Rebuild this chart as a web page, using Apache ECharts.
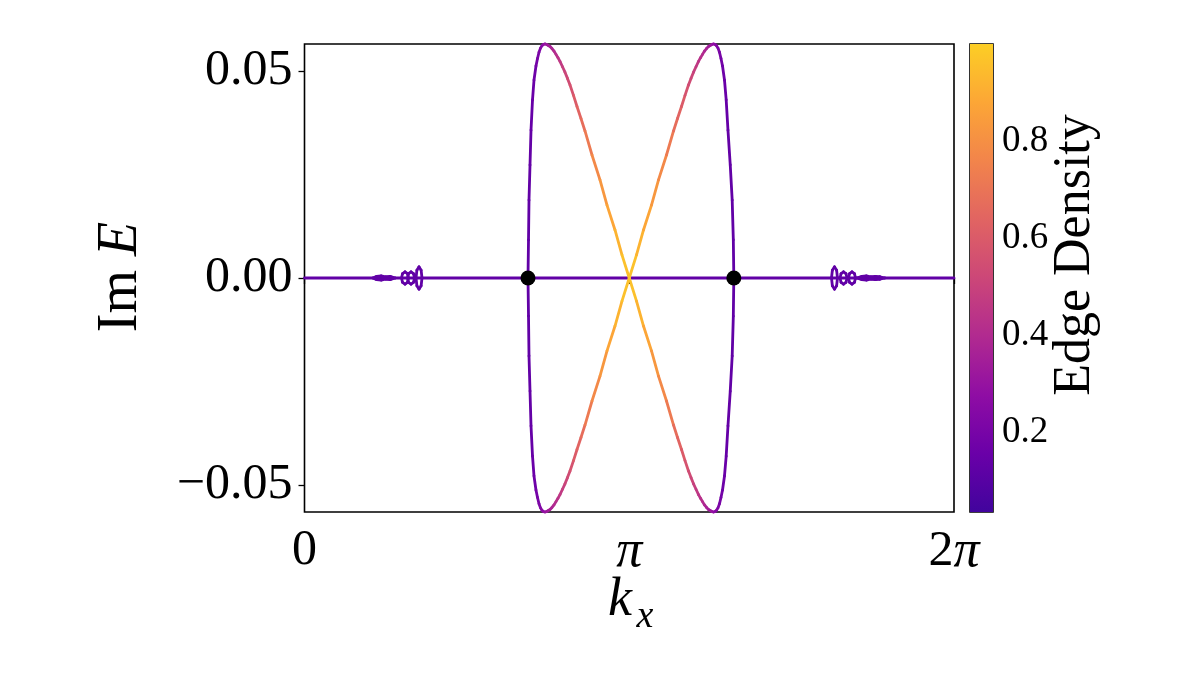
<!DOCTYPE html>
<html>
<head>
<meta charset="utf-8">
<script src="https://cdn.jsdelivr.net/npm/echarts@6/dist/echarts.min.js"></script>
<style>
  html, body { margin: 0; padding: 0; background: #fff; }
  #main { width: 1196px; height: 673px; }
</style>
</head>
<body>
<div id="main"></div>
<script>
// kx is in units of pi, each point is [kx, Im E, edge density]
var baseLine = [[0, 0, 0.13], [2, 0, 0.13]];

var curveA = [
  [0.6882, 0, 0.13], [0.6898, 0.0092, 0.13], [0.6913, 0.0188, 0.13], [0.6944, 0.0273, 0.135],
  [0.6975, 0.0357, 0.14], [0.7021, 0.0430, 0.15], [0.7067, 0.0478, 0.16], [0.7128, 0.0512, 0.18],
  [0.7175, 0.0530, 0.195], [0.7221, 0.0545, 0.21], [0.7267, 0.0555, 0.23], [0.7313, 0.0561, 0.25],
  [0.7360, 0.0564, 0.27], [0.7406, 0.0565, 0.29], [0.7452, 0.0564, 0.31], [0.7498, 0.0562, 0.33],
  [0.7560, 0.0559, 0.35], [0.7621, 0.0554, 0.37], [0.7682, 0.0548, 0.39], [0.7744, 0.0540, 0.41],
  [0.7805, 0.0532, 0.43], [0.7867, 0.0523, 0.45], [0.7944, 0.0510, 0.475], [0.8021, 0.0497, 0.50],
  [0.8098, 0.0482, 0.525], [0.8176, 0.0466, 0.55], [0.8283, 0.0441, 0.585], [0.8391, 0.0414, 0.62],
  [0.8514, 0.0385, 0.655], [0.8637, 0.0355, 0.69], [0.8853, 0.0297, 0.75],
  [0.9099, 0.0237, 0.80], [0.9315, 0.0176, 0.85], [0.9561, 0.0116, 0.90], [0.9776, 0.0056, 0.94],
  [1.0000, 0, 0.98],
  [1.0224, -0.0056, 0.94], [1.0439, -0.0116, 0.90], [1.0685, -0.0176, 0.85], [1.0901, -0.0237, 0.80],
  [1.1147, -0.0297, 0.75], [1.1363, -0.0355, 0.69], [1.1486, -0.0385, 0.655], [1.1609, -0.0414, 0.62],
  [1.1717, -0.0441, 0.585], [1.1824, -0.0466, 0.55], [1.1902, -0.0482, 0.525], [1.1979, -0.0497, 0.50],
  [1.2056, -0.0510, 0.475], [1.2133, -0.0523, 0.45], [1.2195, -0.0532, 0.43], [1.2256, -0.0540, 0.41],
  [1.2318, -0.0548, 0.39], [1.2379, -0.0554, 0.37], [1.2440, -0.0559, 0.35], [1.2502, -0.0562, 0.33],
  [1.2548, -0.0564, 0.31], [1.2594, -0.0565, 0.29], [1.2640, -0.0564, 0.27], [1.2687, -0.0561, 0.25],
  [1.2733, -0.0555, 0.23], [1.2779, -0.0545, 0.21], [1.2825, -0.0530, 0.195], [1.2872, -0.0512, 0.18],
  [1.2933, -0.0478, 0.16], [1.2985, -0.0430, 0.15], [1.3040, -0.0357, 0.14],
  [1.3110, -0.0273, 0.135], [1.3170, -0.0188, 0.13], [1.3205, -0.0092, 0.13], [1.3220, 0, 0.13]
];

var curveB = [
  [0.6882, 0, 0.13], [0.6898, -0.0092, 0.13], [0.6913, -0.0188, 0.13], [0.6944, -0.0273, 0.135],
  [0.6975, -0.0357, 0.14], [0.7021, -0.0430, 0.15], [0.7067, -0.0478, 0.16], [0.7128, -0.0512, 0.18],
  [0.7175, -0.0530, 0.195], [0.7221, -0.0545, 0.21], [0.7267, -0.0555, 0.23], [0.7313, -0.0561, 0.25],
  [0.7360, -0.0564, 0.27], [0.7406, -0.0565, 0.29], [0.7452, -0.0564, 0.31], [0.7498, -0.0562, 0.33],
  [0.7560, -0.0559, 0.35], [0.7621, -0.0554, 0.37], [0.7682, -0.0548, 0.39], [0.7744, -0.0540, 0.41],
  [0.7805, -0.0532, 0.43], [0.7867, -0.0523, 0.45], [0.7944, -0.0510, 0.475], [0.8021, -0.0497, 0.50],
  [0.8098, -0.0482, 0.525], [0.8176, -0.0466, 0.55], [0.8283, -0.0441, 0.585], [0.8391, -0.0414, 0.62],
  [0.8514, -0.0385, 0.655], [0.8637, -0.0355, 0.69], [0.8853, -0.0297, 0.75],
  [0.9099, -0.0237, 0.80], [0.9315, -0.0176, 0.85], [0.9561, -0.0116, 0.90], [0.9776, -0.0056, 0.94],
  [1.0000, 0, 0.98],
  [1.0224, 0.0056, 0.94], [1.0439, 0.0116, 0.90], [1.0685, 0.0176, 0.85], [1.0901, 0.0237, 0.80],
  [1.1147, 0.0297, 0.75], [1.1363, 0.0355, 0.69], [1.1486, 0.0385, 0.655], [1.1609, 0.0414, 0.62],
  [1.1717, 0.0441, 0.585], [1.1824, 0.0466, 0.55], [1.1902, 0.0482, 0.525], [1.1979, 0.0497, 0.50],
  [1.2056, 0.0510, 0.475], [1.2133, 0.0523, 0.45], [1.2195, 0.0532, 0.43], [1.2256, 0.0540, 0.41],
  [1.2318, 0.0548, 0.39], [1.2379, 0.0554, 0.37], [1.2440, 0.0559, 0.35], [1.2502, 0.0562, 0.33],
  [1.2548, 0.0564, 0.31], [1.2594, 0.0565, 0.29], [1.2640, 0.0564, 0.27], [1.2687, 0.0561, 0.25],
  [1.2733, 0.0555, 0.23], [1.2779, 0.0545, 0.21], [1.2825, 0.0530, 0.195], [1.2872, 0.0512, 0.18],
  [1.2933, 0.0478, 0.16], [1.2985, 0.0430, 0.15], [1.3040, 0.0357, 0.14],
  [1.3110, 0.0273, 0.135], [1.3170, 0.0188, 0.13], [1.3205, 0.0092, 0.13], [1.3220, 0, 0.13]
];

// small bulk loops near the real axis
var wiggleLeft1 = [
  [0.211, 0, 0.13], [0.222, 0.0004, 0.13], [0.236, 0.0005, 0.13], [0.250, 0.0003, 0.13],
  [0.264, 0.0004, 0.13], [0.279, 0, 0.13], [0.264, -0.0004, 0.13], [0.250, -0.0003, 0.13],
  [0.236, -0.0005, 0.13], [0.222, -0.0004, 0.13], [0.211, 0, 0.13]
];
var wiggleLeft2 = [
  [0.3203, 0, 0.13], [0.3171, 0.00106, 0.13], [0.3095, 0.0015, 0.13], [0.3019, 0.00106, 0.13],
  [0.2987, 0, 0.13], [0.3019, -0.00106, 0.13], [0.3095, -0.0015, 0.13], [0.3171, -0.00106, 0.13],
  [0.3203, 0, 0.13]
];
var wiggleLeft3 = [
  [0.3388, 0, 0.13], [0.3356, 0.00106, 0.13], [0.3280, 0.0015, 0.13], [0.3204, 0.00106, 0.13],
  [0.3172, 0, 0.13], [0.3204, -0.00106, 0.13], [0.3280, -0.0015, 0.13], [0.3356, -0.00106, 0.13],
  [0.3388, 0, 0.13]
];
var wiggleLeft4 = [
  [0.3618, 0, 0.13], [0.3591, 0.0019, 0.13], [0.3526, 0.0027, 0.13], [0.3461, 0.0019, 0.13],
  [0.3434, 0, 0.13], [0.3461, -0.0019, 0.13], [0.3526, -0.0027, 0.13], [0.3591, -0.0019, 0.13],
  [0.3618, 0, 0.13]
];
var wiggleRight1 = [
  [1.6412, 0, 0.13], [1.6385, 0.0019, 0.13], [1.6320, 0.0027, 0.13], [1.6255, 0.0019, 0.13],
  [1.6228, 0, 0.13], [1.6255, -0.0019, 0.13], [1.6320, -0.0027, 0.13], [1.6385, -0.0019, 0.13],
  [1.6412, 0, 0.13]
];
var wiggleRight2 = [
  [1.6706, 0, 0.13], [1.6674, 0.00106, 0.13], [1.6598, 0.0015, 0.13], [1.6522, 0.00106, 0.13],
  [1.6490, 0, 0.13], [1.6522, -0.00106, 0.13], [1.6598, -0.0015, 0.13], [1.6674, -0.00106, 0.13],
  [1.6706, 0, 0.13]
];
var wiggleRight3 = [
  [1.6967, 0, 0.13], [1.6935, 0.00106, 0.13], [1.6859, 0.0015, 0.13], [1.6783, 0.00106, 0.13],
  [1.6751, 0, 0.13], [1.6783, -0.00106, 0.13], [1.6859, -0.0015, 0.13], [1.6935, -0.00106, 0.13],
  [1.6967, 0, 0.13]
];
var wiggleRight4 = [
  [1.701, 0, 0.13], [1.716, 0.0004, 0.13], [1.730, 0.0005, 0.13], [1.744, 0.0003, 0.13],
  [1.758, 0.0004, 0.13], [1.772, 0.0003, 0.13], [1.787, 0, 0.13], [1.772, -0.0003, 0.13],
  [1.758, -0.0004, 0.13], [1.744, -0.0003, 0.13], [1.730, -0.0005, 0.13], [1.716, -0.0004, 0.13],
  [1.701, 0, 0.13]
];

// exceptional points (black dots)
var epKx = [0.6882, 1.3220];
var epIm = [0, 0];

var xTicks = [0, 1, 2];
var yTicks = [-0.05, 0, 0.05];
var cbTicks = [0.2, 0.4, 0.6, 0.8];
var densMin = 0.035, densMax = 1.0;

// plasma, 0.1 .. 0.9
var plasma = ['#41049d', '#6a00a8', '#8f0da4', '#b12a90', '#cc4778',
              '#e16462', '#f2844b', '#fca636', '#fcce25'];

var FONT = 'Liberation Serif';

function toSegments(pts){
  var out = [];
  for (var i = 0; i < pts.length - 1; i++) {
    out.push([pts[i][0], pts[i][1], pts[i+1][0], pts[i+1][1], (pts[i][2] + pts[i+1][2]) / 2]);
  }
  return out;
}

var segs = [].concat(
  toSegments(baseLine),
  toSegments(wiggleLeft1), toSegments(wiggleLeft2), toSegments(wiggleLeft3), toSegments(wiggleLeft4),
  toSegments(wiggleRight1), toSegments(wiggleRight2), toSegments(wiggleRight3), toSegments(wiggleRight4),
  toSegments(curveA), toSegments(curveB)
);

var dots = [];
for (var i = 0; i < epKx.length; i++) dots.push([epKx[i], epIm[i]]);

var chart = echarts.init(document.getElementById('main'));

var stops = plasma.map(function(c, i){ return { offset: i / (plasma.length - 1), color: c }; });

var option = {
  animation: false,
  backgroundColor: '#fff',
  grid: [
    { left: 304.5, top: 44, width: 649.5, height: 468, show: true, borderColor: '#000', borderWidth: 1.6, backgroundColor: 'transparent' },
    { left: 970, top: 44, width: 23, height: 468, show: true, borderColor: '#000', borderWidth: 1.6, backgroundColor: 'transparent' }
  ],
  xAxis: [
    {
      type: 'value', gridIndex: 0, min: 0, max: 2, interval: 1,
      axisLine: { show: false },
      splitLine: { show: false },
      axisTick: { show: true, length: 6, lineStyle: { color: '#000', width: 1.3 } },
      axisLabel: {
        margin: 14, color: '#000', fontFamily: FONT, fontSize: 50,
        formatter: function(v){
          if (v === 0) return '0';
          if (v === 1) return '{i|π}';
          return '2{i|π}';
        },
        rich: { i: { fontFamily: FONT, fontSize: 52, fontStyle: 'italic', color: '#000' } }
      }
    },
    { type: 'value', gridIndex: 1, min: 0, max: 1, show: false }
  ],
  yAxis: [
    {
      type: 'value', gridIndex: 0, min: -0.0565, max: 0.0565,
      axisLine: { show: false },
      splitLine: { show: false },
      axisTick: { show: true, length: 6, customValues: yTicks, lineStyle: { color: '#000', width: 1.3 } },
      axisLabel: {
        margin: 12, color: '#000', fontFamily: FONT, fontSize: 50,
        customValues: yTicks,
        formatter: function(v){
          if (Math.abs(v) < 1e-9) return '0.00';
          return (v < 0 ? '\u2212' : '') + Math.abs(v).toFixed(2);
        }
      }
    },
    {
      type: 'value', gridIndex: 1, min: densMin, max: densMax, position: 'right',
      axisLine: { show: false },
      splitLine: { show: false },
      axisTick: { show: true, length: 5, customValues: cbTicks, lineStyle: { color: '#000', width: 1.2 } },
      axisLabel: {
        margin: 9, color: '#000', fontFamily: FONT, fontSize: 37,
        customValues: cbTicks,
        formatter: function(v){ return v.toFixed(1); }
      }
    }
  ],
  visualMap: {
    type: 'continuous', show: false, seriesIndex: 0, dimension: 4,
    min: densMin, max: densMax,
    inRange: { color: plasma }
  },
  series: [
    {
      type: 'custom', xAxisIndex: 0, yAxisIndex: 0,
      encode: { x: [0, 2], y: [1, 3] },
      data: segs,
      renderItem: function(params, api){
        var p1 = api.coord([api.value(0), api.value(1)]);
        var p2 = api.coord([api.value(2), api.value(3)]);
        return {
          type: 'line',
          shape: { x1: p1[0], y1: p1[1], x2: p2[0], y2: p2[1] },
          style: { stroke: api.visual('color'), lineWidth: 2.8, lineCap: 'round', fill: null }
        };
      },
      z: 2
    },
    {
      type: 'scatter', xAxisIndex: 0, yAxisIndex: 0,
      data: dots, symbolSize: 15,
      itemStyle: { color: '#000', opacity: 1 },
      z: 5
    },
    {
      type: 'custom', xAxisIndex: 1, yAxisIndex: 1,
      data: [[0, densMin, 1, densMax]],
      encode: { x: [0, 2], y: [1, 3] },
      renderItem: function(params, api){
        var p1 = api.coord([api.value(0), api.value(3)]);
        var p2 = api.coord([api.value(2), api.value(1)]);
        return {
          type: 'rect',
          shape: { x: p1[0], y: p1[1], width: p2[0] - p1[0], height: p2[1] - p1[1] },
          style: { fill: new echarts.graphic.LinearGradient(0, 1, 0, 0, stops) }
        };
      },
      z: 1
    }
  ],
  graphic: [
    {
      type: 'text', x: 121, y: 277, rotation: Math.PI / 2,
      style: {
        text: '{a|Im }{b|E}',
        rich: {
          a: { fontFamily: FONT, fontSize: 56, fill: '#000' },
          b: { fontFamily: FONT, fontSize: 56, fontStyle: 'italic', fill: '#000' }
        },
        align: 'center', verticalAlign: 'middle'
      }
    },
    {
      type: 'text', x: 620, y: 601,
      style: { text: 'k', fontFamily: FONT, fontSize: 54, fontStyle: 'italic', fill: '#000', align: 'center', verticalAlign: 'middle' }
    },
    {
      type: 'text', x: 645, y: 617,
      style: { text: 'x', fontFamily: FONT, fontSize: 38, fontStyle: 'italic', fill: '#000', align: 'center', verticalAlign: 'middle' }
    },
    {
      type: 'text', x: 1075, y: 255, rotation: Math.PI / 2,
      style: { text: 'Edge Density', fontFamily: FONT, fontSize: 52, fill: '#000', align: 'center', verticalAlign: 'middle' }
    }
  ]
};

chart.setOption(option);
</script>
</body>
</html>
